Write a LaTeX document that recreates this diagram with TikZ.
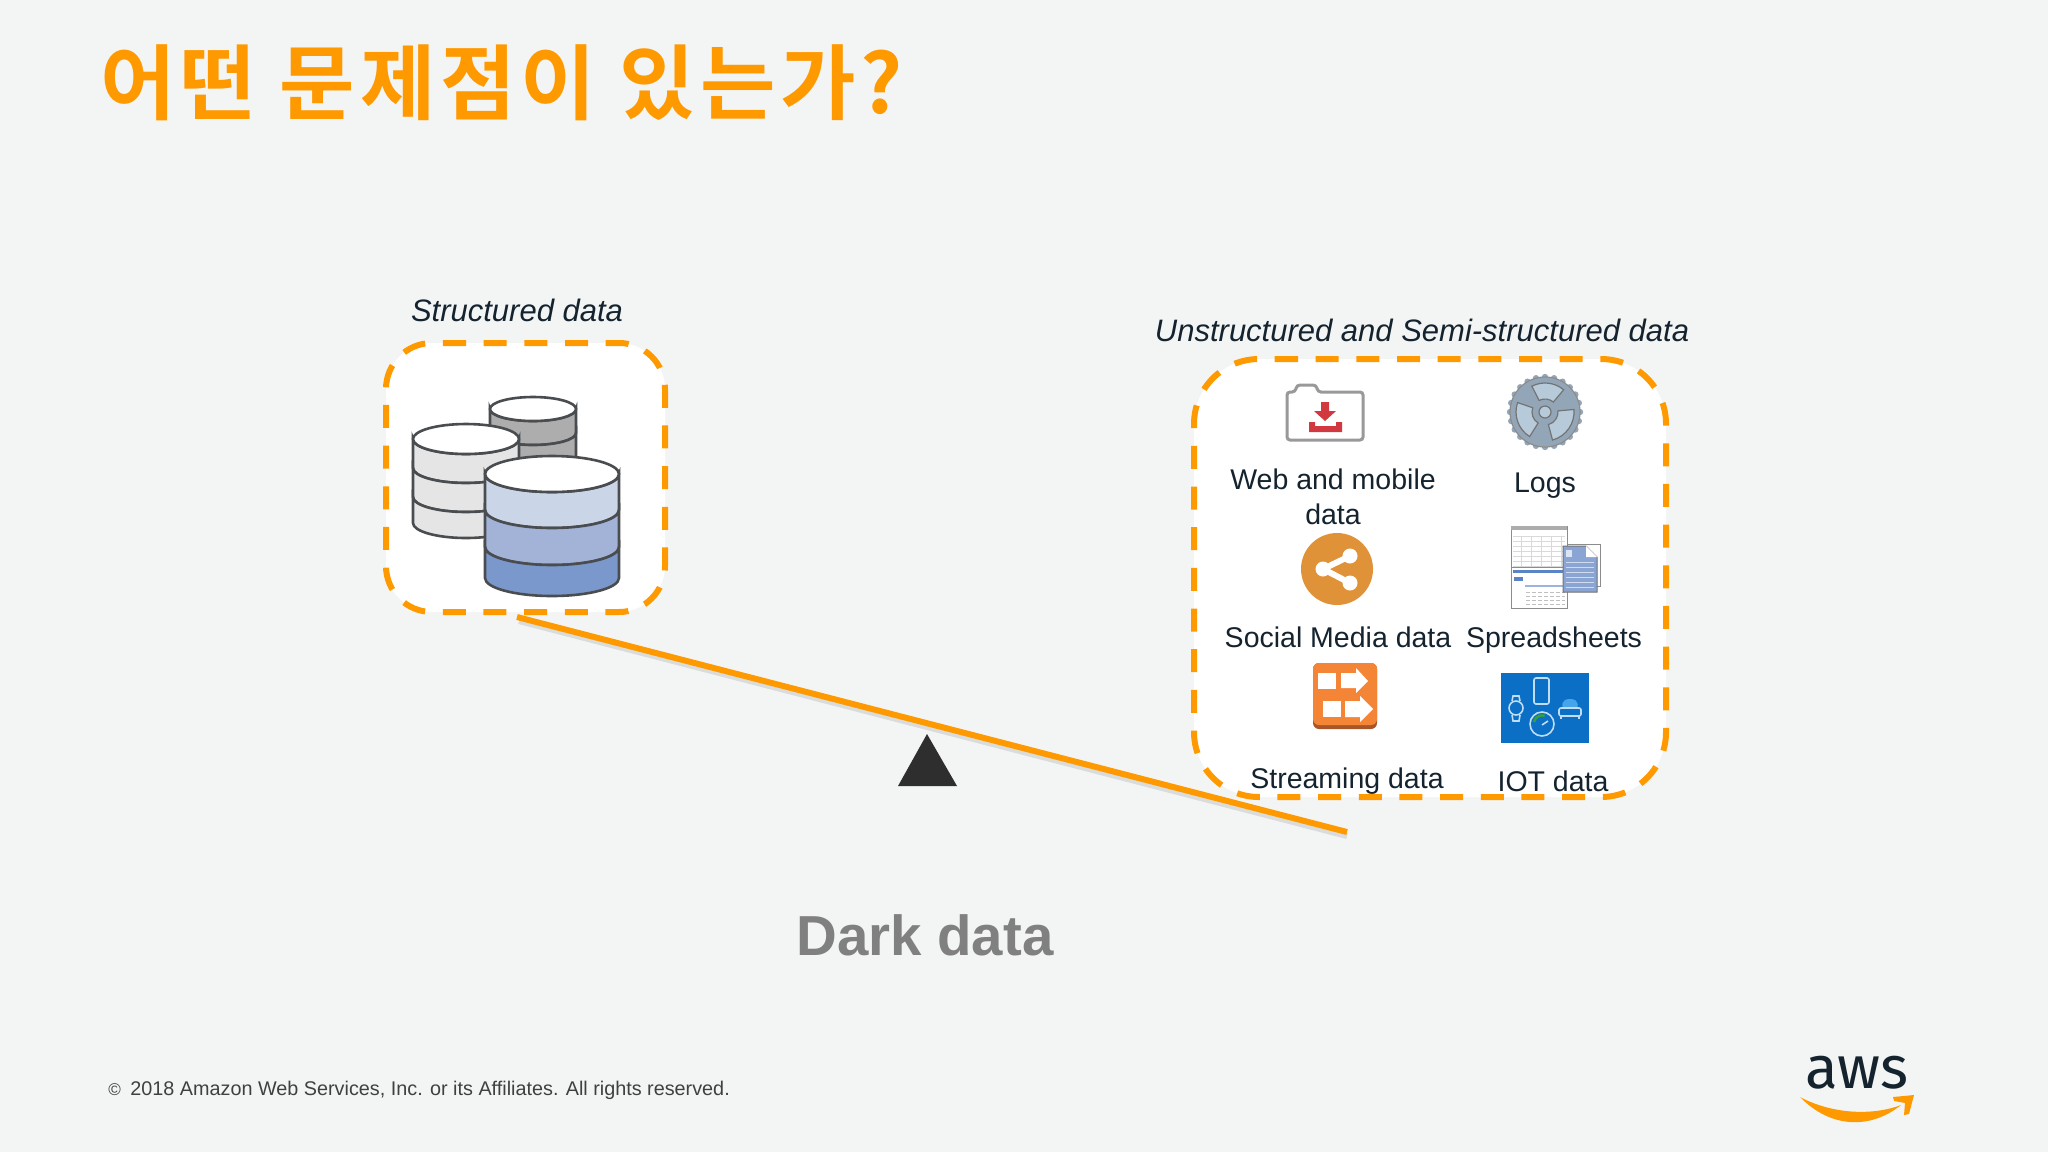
\documentclass[tikz,border=0pt]{standalone}
\usepackage{fontspec}
\setmainfont{Liberation Sans}
\newfontfamily\titlefont[LetterSpace=6]{Noto Sans CJK KR Bold}
\newfontfamily\logofont{Fira Sans}
\definecolor{awsorange}{HTML}{FF9900}
\definecolor{slidebg}{HTML}{F3F5F5}
\definecolor{textdark}{HTML}{14232E}
\definecolor{dbline}{HTML}{4A4D50}
\definecolor{dbtop}{HTML}{CAD5E8}
\definecolor{dbmid}{HTML}{A3B3D8}
\definecolor{dblow}{HTML}{7B98CC}
\definecolor{gearfill}{HTML}{93A6B8}
\definecolor{gearlight}{HTML}{B7CAD9}
\definecolor{shareorange}{HTML}{E09238}
\definecolor{streamorange}{HTML}{F58536}
\definecolor{streamdark}{HTML}{A9552A}
\definecolor{iotblue}{HTML}{0B6FC6}
\definecolor{iotline}{HTML}{BFDDF4}
\definecolor{iotcar}{HTML}{45A4EA}
\definecolor{docblue}{HTML}{8AA4D4}
\definecolor{sheetblue}{HTML}{5B84C4}
\definecolor{alertred}{HTML}{D2383F}
\def\dbBand#1#2#3#4#5#6{%
    \draw [dbstroke, fill=#6]
    (#1-#2,#4) arc [start angle=180, end angle=0, x radius=#2, y radius=#3]
    -- (#1+#2,#5) arc [start angle=0, end angle=180, x radius=#2, y radius=#3]
    -- cycle
    ;
}
\tikzset{
    databox/.style = {draw=awsorange, line width=3pt, dash pattern=on 11.5pt off 8.835pt, fill=white},
    dbstroke/.style = {draw=dbline, line width=1.3pt},
    itemlabel/.style = {anchor=base, font=\fontsize{14.25pt}{17pt}\selectfont, text=textdark, inner sep=0pt},
    grouplabel/.style = {anchor=base, font=\fontsize{15.5pt}{18pt}\selectfont\itshape, text=textdark, inner sep=0pt},
    iconline/.style = {draw=iotline, line width=0.8pt},
}
\begin{document}
\begin{tikzpicture}[x=0.5pt,y=-0.5pt]
            \useasboundingbox [fill=slidebg] (0,0) rectangle (2048,1152);
            %% title and footer
            \node [anchor=base west, inner sep=0pt, text=awsorange, font=\fontsize{41pt}{44pt}\titlefont]
            (titletext) at (100,113) {어떤 문제점이 있는가?};
            \node [anchor=base, inner sep=0pt, text=black!50, font=\fontsize{28.2pt}{32pt}\selectfont\bfseries]
            (darktext) at (925,955) {Dark data};
            \node [anchor=base west, inner sep=0pt, text=black!75, font=\fontsize{9.9pt}{12pt}\selectfont]
            (copytext) at (108,1095) {{\fontsize{8.5pt}{9pt}\selectfont ©}\hspace{2pt} 2018 Amazon Web Services, Inc. or its Affiliates. All rights reserved.};
            %% group boxes
            \draw [databox, rounded corners=23pt]
            (443,343) -- (665,343) -- (665,612) -- (386,612) -- (386,343) -- (443,343)
            ;
            \draw [databox, rounded corners=32.5pt]
            (1275,359) -- (1666,359) -- (1666,797) -- (1194,797) -- (1194,359) -- (1275,359)
            ;
            \node [grouplabel] (structtext) at (517,321) {Structured data};
            \node [grouplabel] (unstructtext) at (1422,341) {Unstructured and Semi-structured data};
            %% balance
            \draw [line width=3pt, black, opacity=0.1] (519,621) -- (1347,836);
            \draw [line width=3pt, awsorange] (517,617) coordinate (beamleft) -- (1347,832) coordinate (beamright);
            \fill [fill=black!82] (927,734) -- (957,786) -- (898,786) -- cycle;
            %% back cylinder
            \dbBand{533}{43}{12}{409}{433}{black!32}
            \dbBand{533}{43}{12}{433}{457}{black!32}
            \draw [dbstroke, fill=white] (533,409) ellipse [x radius=43, y radius=12];
            %% grey cylinder
            \dbBand{466}{53}{15}{439}{468}{black!10}
            \dbBand{466}{53}{15}{468}{497}{black!10}
            \dbBand{466}{53}{15}{497}{523}{black!10}
            \draw [dbstroke, fill=white] (466,439) ellipse [x radius=53, y radius=15];
            %% blue cylinder
            \dbBand{552}{67}{18}{474}{510}{dbtop}
            \dbBand{552}{67}{18}{510}{547}{dbmid}
            \dbBand{552}{67}{18}{547}{578}{dblow}
            \draw [dbstroke, fill=white] (552,474) ellipse [x radius=67, y radius=18];
            %% web and mobile icon
            \draw [line width=1.5pt, draw=black!40, fill=white, rounded corners=1.5pt]
            (1287,392) -- (1295,392) -- (1297,385) -- (1316,385) -- (1318,392)
            -- (1363,392) -- (1363,440) -- (1287,440) -- cycle
            ;
            \fill [alertred] (1321,402) -- (1329,402) -- (1329,411) -- (1336,411) -- (1325,421)
            -- (1314,411) -- (1321,411) -- cycle;
            \fill [alertred] (1309,422) -- (1315,422) -- (1315,426) -- (1336,426) -- (1336,422)
            -- (1342,422) -- (1342,432) -- (1309,432) -- cycle;
            \node [itemlabel] (webtext) at (1333,489) {Web and mobile};
            \node [itemlabel] (webtexttwo) at (1333,524) {data};
            %% logs icon
            \foreach \ang in {0,15,...,345} {
                \fill [gearfill] (1545,412) ++(\ang:35) circle (3.2);
            }
            \draw [line width=0.6pt, draw=black!45, fill=gearfill] (1545,412) circle (35);
            \foreach \angfrom/\angto in {50/117,161/238,285/365} {
                \draw [line width=0.6pt, draw=black!55, fill=gearlight]
                (1545,412) ++(-\angfrom:29) arc [start angle=-\angfrom, end angle=-\angto, radius=29]
                -- ++(-\angto+180:16) arc [start angle=-\angto, end angle=-\angfrom, radius=13]
                -- cycle
                ;
            }
            \draw [line width=0.6pt, draw=black!55, fill=gearlight] (1545,412) circle (6);
            \node [itemlabel] (logstext) at (1545,492) {Logs};
            %% social media icon
            \fill [shareorange] (1337,569) circle (36);
            \draw [white, line width=3pt] (1350,556) -- (1323,569) -- (1350,583);
            \fill [white] (1350,556) circle (7.5) (1323,569) circle (7.5) (1350,583) circle (7.5);
            \node [itemlabel] (socialtext) at (1338,647) {Social Media data};
            %% spreadsheet icon
            \draw [line width=0.5pt, draw=black!45, fill=white] (1563,544) rectangle (1600,586);
            \draw [line width=0.5pt, draw=black!45, fill=white] (1511,526) rectangle (1567,567);
            \fill [black!30!gray!50] (1511,526) rectangle (1567,530);
            \foreach \gridy in {536,541,...,566} {
                \draw [line width=0.2pt, black!15] (1513,\gridy) -- (1565,\gridy);
            }
            \foreach \gridx in {1521,1531,...,1561} {
                \draw [line width=0.2pt, black!15] (\gridx,536) -- (\gridx,566);
            }
            \draw [line width=0.5pt, draw=black!45, fill=white] (1511,567) rectangle (1567,608);
            \fill [sheetblue] (1513,570) rectangle (1567,573);
            \fill [sheetblue] (1514,577) rectangle (1523,581);
            \fill [sheetblue!60] (1525,585) rectangle (1565,587);
            \foreach \rowy in {592,596,...,604} {
                \draw [line width=0.4pt, black!25, dash pattern=on 2pt off 1pt] (1526,\rowy) -- (1565,\rowy);
            }
            \draw [line width=0.5pt, draw=black!55, fill=docblue]
            (1563,546) -- (1586,546) -- (1597,557) -- (1597,592) -- (1563,592) -- cycle
            ;
            \fill [white!70!docblue] (1566,550) rectangle (1572,557);
            \fill [white] (1586,546) -- (1597,557) -- (1586,557) -- cycle;
            \foreach \rowy in {562,567,...,587} {
                \draw [line width=0.4pt, white!60!docblue] (1566,\rowy) -- (1594,\rowy);
            }
            \node [itemlabel] (sheettext) at (1554,647) {Spreadsheets};
            %% streaming icon
            \fill [streamdark, rounded corners=3pt] (1313,663) rectangle (1377,729);
            \fill [streamorange, rounded corners=3pt] (1313,663) rectangle (1377,725);
            \fill [white] (1318,673) rectangle (1336,689);
            \fill [white] (1341,673) -- (1356,673) -- (1356,668) -- (1368,681) -- (1356,693) -- (1356,688) -- (1341,688) -- cycle;
            \fill [white] (1323,701) rectangle (1341,717);
            \fill [white] (1345,701) -- (1360,701) -- (1360,696) -- (1373,709) -- (1360,722) -- (1360,717) -- (1345,717) -- cycle;
            \node [itemlabel] (streamtext) at (1347,788) {Streaming data};
            %% iot icon
            \fill [iotblue] (1501,673) rectangle (1589,743);
            \draw [iconline, rounded corners=1pt] (1534,678) rectangle (1549,704);
            \draw [iconline] (1516,708) circle (7);
            \draw [iconline] (1512,701) -- (1513,696) -- (1519,696) -- (1520,701);
            \draw [iconline] (1512,715) -- (1513,721) -- (1519,721) -- (1520,715);
            \fill [iotcar, rounded corners=2pt] (1561,708) -- (1564,699) -- (1576,699) -- (1579,708) -- cycle;
            \draw [iconline, rounded corners=1pt]
            (1559,708) -- (1581,708) -- (1581,716) -- (1559,716) -- cycle
            ;
            \draw [iconline] (1561,716) -- (1561,719) (1579,716) -- (1579,719);
            \draw [iconline] (1542,724) circle (12);
            \draw [line width=1.2pt, green!55!black!80] (1534,722) arc [start angle=190, end angle=290, radius=8];
            \draw [iconline] (1542,725) -- (1548,721);
            \node [itemlabel] (iottext) at (1553,791) {IOT data};
            %% aws logo
            \node [anchor=base, inner sep=0pt, text=textdark, font=\fontsize{30pt}{32pt}\logofont]
            (awstext) at (1857,1088) {aws};
            \fill [awsorange] (1800,1097) .. controls (1830,1128) and (1870,1130) .. (1901,1105)
            .. controls (1872,1116) and (1832,1114) .. cycle;
            \fill [awsorange] (1893,1097) -- (1914,1095) -- (1909,1114) -- (1904,1115) -- (1905,1103) -- (1894,1101) -- cycle;
        \end{tikzpicture}
\end{document}
